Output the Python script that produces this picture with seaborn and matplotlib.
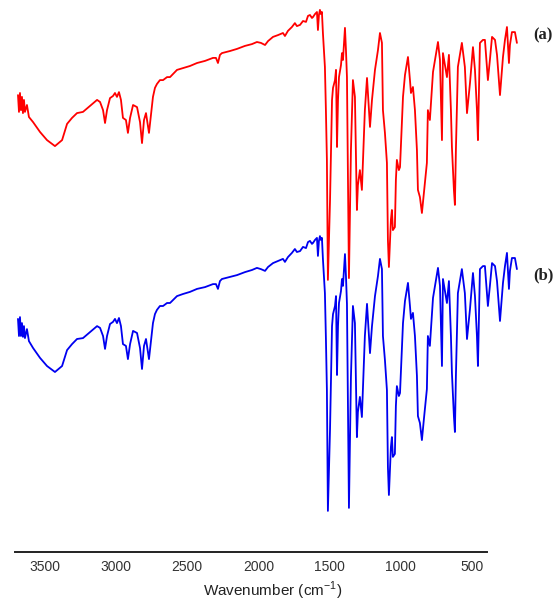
import numpy as np
import pandas as pd
import matplotlib
matplotlib.use('Agg')
import matplotlib.pyplot as plt
import seaborn as sns

# FTIR spectra (wavenumber in cm-1, transmittance in a.u.)
wavenumber = [
    3690, 3683, 3676, 3669, 3662, 3655, 3648, 3641, 3627, 3613, 3584, 3535, 3486, 3430, 3380,
    3345, 3310, 3275, 3233, 3184, 3134, 3113, 3092, 3078, 3064, 3043, 3022, 3008, 2994, 2980,
    2966, 2952, 2931, 2917, 2902, 2881, 2853, 2832, 2818, 2804, 2790, 2769, 2755, 2741, 2727,
    2713, 2692, 2670, 2642, 2621, 2572, 2530, 2481, 2431, 2375, 2319, 2298, 2284, 2270, 2256,
    2199, 2150, 2094, 2045, 2010, 1982, 1953, 1932, 1897, 1862, 1827, 1813, 1792, 1764, 1743,
    1729, 1707, 1686, 1665, 1651, 1637, 1623, 1616, 1602, 1588, 1581, 1574, 1567, 1560, 1553,
    1546, 1532, 1525, 1518, 1511, 1496, 1482, 1475, 1461, 1454, 1447, 1440, 1433, 1419, 1412,
    1405, 1391, 1384, 1377, 1370, 1363, 1349, 1335, 1321, 1307, 1300, 1286, 1272, 1265, 1251,
    1236, 1222, 1215, 1201, 1187, 1180, 1159, 1145, 1131, 1124, 1110, 1096, 1089, 1082, 1068,
    1061, 1054, 1040, 1033, 1026, 1012, 1004, 990, 983, 969, 955, 948, 934, 927, 913,
    899, 885, 878, 864, 850, 836, 815, 808, 794, 772, 758, 737, 723, 709, 702,
    688, 674, 660, 646, 639, 625, 618, 611, 597, 583, 569, 548, 533, 512, 491,
    477, 463, 456, 449, 442, 421, 407, 386, 372, 357, 336, 322, 301, 280, 266,
    252, 238, 231, 217, 196, 182,
]

spectrum_a = [
    68.3, 62.7, 69.0, 63.3, 67.7, 62.3, 66.7, 62.7, 65.0, 61.0, 59.3, 56.0, 53.3, 51.3, 53.3,
    58.7, 60.7, 62.3, 62.7, 64.7, 66.7, 66.0, 63.3, 59.0, 63.3, 67.3, 68.0, 69.0, 67.7, 69.3,
    66.7, 60.7, 60.0, 55.7, 60.7, 65.0, 64.3, 59.3, 52.3, 60.0, 62.3, 55.7, 61.7, 67.7, 70.7,
    72.0, 73.3, 73.3, 74.3, 74.3, 76.7, 77.3, 78.0, 79.0, 79.7, 80.7, 80.7, 79.0, 81.7, 82.3,
    83.0, 83.7, 84.7, 85.3, 86.0, 85.7, 85.0, 86.3, 87.7, 88.3, 89.0, 88.0, 89.7, 91.0, 92.3,
    91.3, 91.7, 93.0, 92.7, 94.7, 95.0, 94.0, 94.3, 95.3, 96.0, 90.0, 95.0, 96.7, 95.3, 96.0,
    89.0, 77.7, 63.3, 46.7, 6.7, 33.3, 66.7, 70.7, 73.3, 76.7, 51.0, 66.7, 74.3, 78.3, 82.3,
    80.0, 90.7, 83.3, 74.3, 40.0, 7.3, 50.0, 73.3, 67.7, 30.0, 38.3, 43.3, 36.7, 45.7, 63.3,
    74.0, 63.3, 57.7, 66.7, 73.3, 76.7, 83.3, 89.0, 85.7, 63.3, 55.7, 45.7, 20.0, 11.0, 26.7,
    30.0, 23.3, 24.3, 40.0, 46.7, 43.3, 44.3, 60.0, 67.7, 75.0, 79.0, 81.0, 73.3, 69.0, 71.0,
    63.3, 50.0, 36.7, 34.3, 29.0, 35.7, 45.7, 63.3, 60.0, 76.0, 80.0, 86.0, 80.0, 53.3, 82.3,
    78.3, 74.3, 81.7, 63.3, 51.0, 36.7, 31.7, 50.0, 77.7, 81.7, 85.7, 77.7, 62.3, 72.3, 84.3,
    76.7, 63.3, 53.3, 70.0, 85.7, 86.7, 86.7, 73.3, 80.0, 87.7, 86.7, 81.7, 68.3, 81.0, 86.7,
    91.0, 79.0, 85.0, 89.3, 89.3, 85.7,
]

spectrum_b = [
    68.7, 63.0, 69.3, 63.0, 67.3, 62.7, 66.3, 62.3, 65.3, 61.3, 59.0, 55.7, 53.0, 51.0, 53.0,
    58.3, 60.3, 62.0, 62.3, 64.3, 66.3, 65.7, 63.0, 58.7, 63.0, 67.0, 67.7, 68.7, 67.3, 69.0,
    66.3, 60.3, 59.7, 55.3, 60.3, 64.7, 64.0, 59.0, 52.0, 59.7, 62.0, 55.3, 61.3, 67.3, 70.3,
    71.7, 73.0, 73.0, 74.0, 74.0, 76.3, 77.0, 77.7, 78.7, 79.3, 80.3, 80.3, 78.7, 81.3, 82.0,
    82.7, 83.3, 84.3, 85.0, 85.7, 85.3, 84.7, 86.0, 87.3, 88.0, 88.7, 87.7, 89.3, 90.7, 92.0,
    91.0, 91.3, 92.7, 92.3, 94.3, 94.7, 93.7, 94.0, 95.0, 95.7, 89.7, 94.7, 96.3, 95.0, 95.7,
    88.7, 77.3, 62.3, 45.0, 4.7, 32.0, 66.3, 70.3, 73.0, 76.3, 50.0, 66.3, 74.0, 78.0, 82.0,
    79.7, 90.3, 83.0, 73.7, 38.7, 5.7, 49.3, 73.0, 67.3, 29.3, 37.7, 42.7, 36.0, 45.3, 63.0,
    73.7, 63.0, 57.3, 66.3, 73.0, 76.3, 83.0, 88.7, 85.3, 63.0, 55.0, 45.0, 19.3, 10.0, 26.0,
    29.3, 22.7, 23.7, 39.7, 46.3, 43.0, 44.0, 59.7, 67.3, 74.7, 78.7, 80.7, 73.0, 68.7, 70.7,
    63.0, 49.7, 36.3, 34.0, 28.3, 35.3, 45.3, 63.0, 59.7, 75.7, 79.7, 85.7, 79.7, 53.0, 82.0,
    78.0, 74.0, 81.3, 63.0, 50.7, 36.3, 31.0, 49.7, 77.3, 81.3, 85.3, 77.3, 62.0, 72.0, 84.0,
    76.3, 63.0, 53.0, 69.7, 85.3, 86.3, 86.3, 73.0, 79.7, 87.3, 86.3, 81.3, 68.0, 80.7, 86.3,
    90.7, 78.7, 84.7, 89.0, 89.0, 85.3,
]

labels = ['(a)', '(b)']
xticks = [3500, 3000, 2500, 2000, 1500, 1000, 500]

sns.set_style('white')
plt.rcParams['font.family'] = ['Liberation Sans', 'DejaVu Sans']

offset = 75  # vertical stacking of trace (b) under trace (a)
df = pd.concat([
    pd.DataFrame({'wn': wavenumber, 'T': spectrum_a, 'sample': labels[0]}),
    pd.DataFrame({'wn': wavenumber, 'T': np.array(spectrum_b) - offset, 'sample': labels[1]}),
])

fig = plt.figure(figsize=(5.57, 6.07), dpi=100)
ax = fig.add_axes([15 / 557, 55 / 607, 515 / 557, 552 / 607])

sns.lineplot(data=df, x='wn', y='T', hue='sample', palette=['#ff0000', '#0000f0'],
             estimator=None, sort=False, linewidth=1.3, legend=False, ax=ax)

ax.set_xlim(3711, 90)
ax.set_ylim(-84, 100)
ax.set_xticks(xticks)
ax.set_yticks([])
ax.set_ylabel('')
ax.set_xlabel('Wavenumber (cm$^{\\mathregular{-1}}$)', fontsize=11, color='#222222', labelpad=4)
ax.tick_params(axis='x', direction='in', length=4, width=1.2, color='#222222',
               labelsize=10, labelcolor='#333333', pad=6)

for side in ['top', 'right', 'left']:
    ax.spines[side].set_visible(False)
ax.spines['bottom'].set_bounds(3711, 393)
ax.spines['bottom'].set_linewidth(1.4)
ax.spines['bottom'].set_color('#222222')

ax.text(69, 88.3, labels[0], family='Liberation Serif', fontweight='bold', fontsize=12,
        va='center', ha='left', color='#222222')
ax.text(69, 8.3, labels[1], family='Liberation Serif', fontweight='bold', fontsize=12,
        va='center', ha='left', color='#222222')

fig.savefig('out.png', dpi=100)
